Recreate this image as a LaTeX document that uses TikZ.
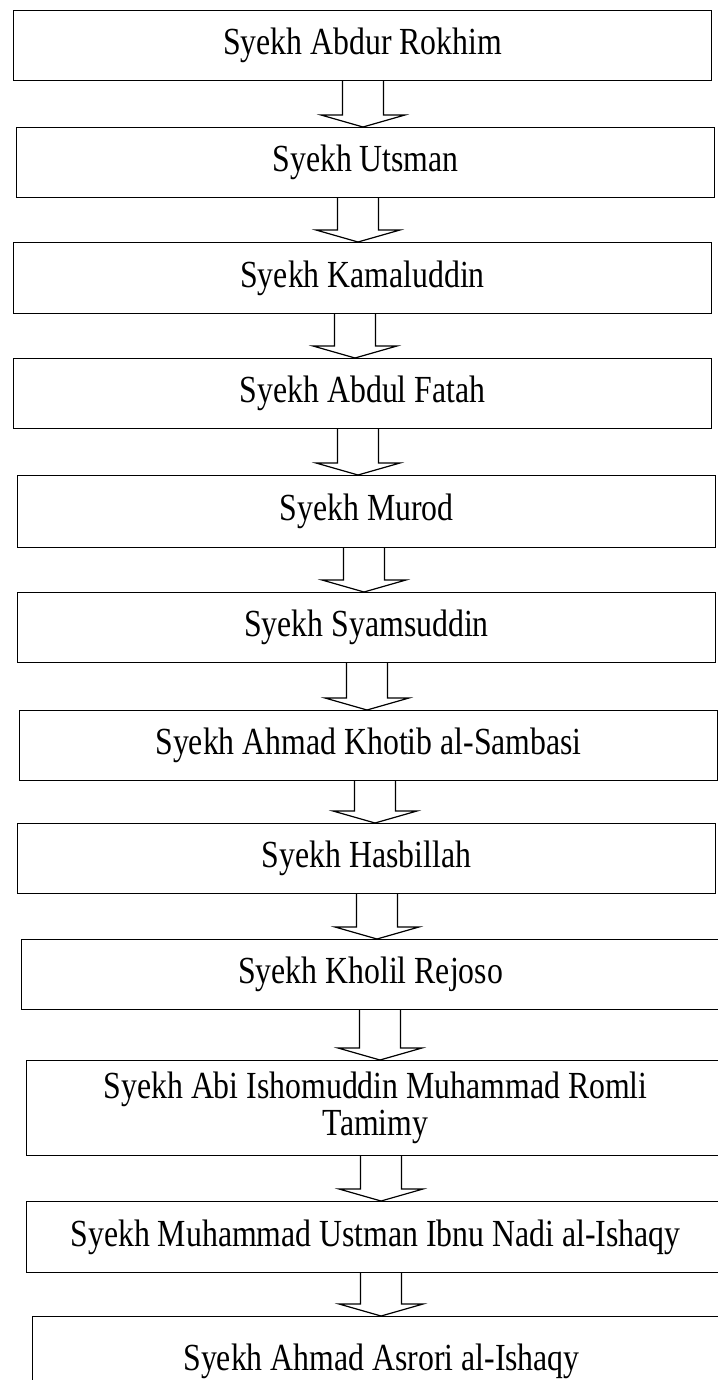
\documentclass[tikz,border=0pt]{standalone}
\usepackage{fontspec}
\setmainfont[FakeStretch=0.83]{Liberation Serif}
\usetikzlibrary{calc}
\tikzset{
    silsilah/.style={draw,line width=1.2pt,anchor=north west,inner sep=0pt,
        minimum width=698pt,minimum height=#1,align=center,
        font=\fontsize{38.3}{37}\selectfont},
    silsilah/.default=70pt,
    hollow arrow/.style n args={3}{   % upper box, lower box, x of the shaft
        insert path={
            let \p1 = (#1.south), \p2 = (#2.north) in
            ({#3pt-20.5pt},\y1) -- ({#3pt-20.5pt},{\y2+12pt}) -- ({#3pt-42pt},{\y2+12pt})
            -- (#3pt,\y2) -- ({#3pt+42pt},{\y2+12pt}) -- ({#3pt+20.5pt},{\y2+12pt})
            -- ({#3pt+20.5pt},\y1)
        }
    }
}
\begin{document}
\begin{tikzpicture}[x=1pt,y=-1pt,line join=miter]
\useasboundingbox (0,0) rectangle (717,1380);

\node[silsilah] (rokhim) at (13,10) {Syekh Abdur Rokhim};
\node[silsilah] (utsman) at (16,127) {Syekh Utsman};
\node[silsilah=71pt] (kamal) at (13,242) {Syekh Kamaluddin};
\node[silsilah] (fatah) at (13,358) {Syekh Abdul Fatah};
\node[silsilah=72pt] (murod) at (17,475) {Syekh Murod};
\node[silsilah] (syams) at (17,592) {Syekh Syamsuddin};
\node[silsilah] (khotib) at (19,710) {Syekh Ahmad Khotib al-Sambasi};
\node[silsilah] (hasbi) at (17,823) {Syekh Hasbillah};
\node[silsilah] (kholil) at (21,939) {Syekh Kholil Rejoso};
\node[silsilah=95pt] (romli) at (26,1060) {Syekh Abi Ishomuddin Muhammad Romli\\Tamimy};
\node[silsilah=71pt] (ustman) at (26,1201) {Syekh Muhammad Ustman Ibnu Nadi al-Ishaqy};
\node[silsilah=90pt] (asrori) at (32,1316) {Syekh Ahmad Asrori al-Ishaqy};

% panah antar kotak
\draw[line width=1.2pt] [hollow arrow={rokhim}{utsman}{363}];
\draw[line width=1.2pt] [hollow arrow={utsman}{kamal}{358}];
\draw[line width=1.2pt] [hollow arrow={kamal}{fatah}{355}];
\draw[line width=1.2pt] [hollow arrow={fatah}{murod}{358}];
\draw[line width=1.2pt] [hollow arrow={murod}{syams}{364}];
\draw[line width=1.2pt] [hollow arrow={syams}{khotib}{367}];
\draw[line width=1.2pt] [hollow arrow={khotib}{hasbi}{375}];
\draw[line width=1.2pt] [hollow arrow={hasbi}{kholil}{377}];
\draw[line width=1.2pt] [hollow arrow={kholil}{romli}{380}];
\draw[line width=1.2pt] [hollow arrow={romli}{ustman}{381}];
\draw[line width=1.2pt] [hollow arrow={ustman}{asrori}{381}];

\end{tikzpicture}
\end{document}
